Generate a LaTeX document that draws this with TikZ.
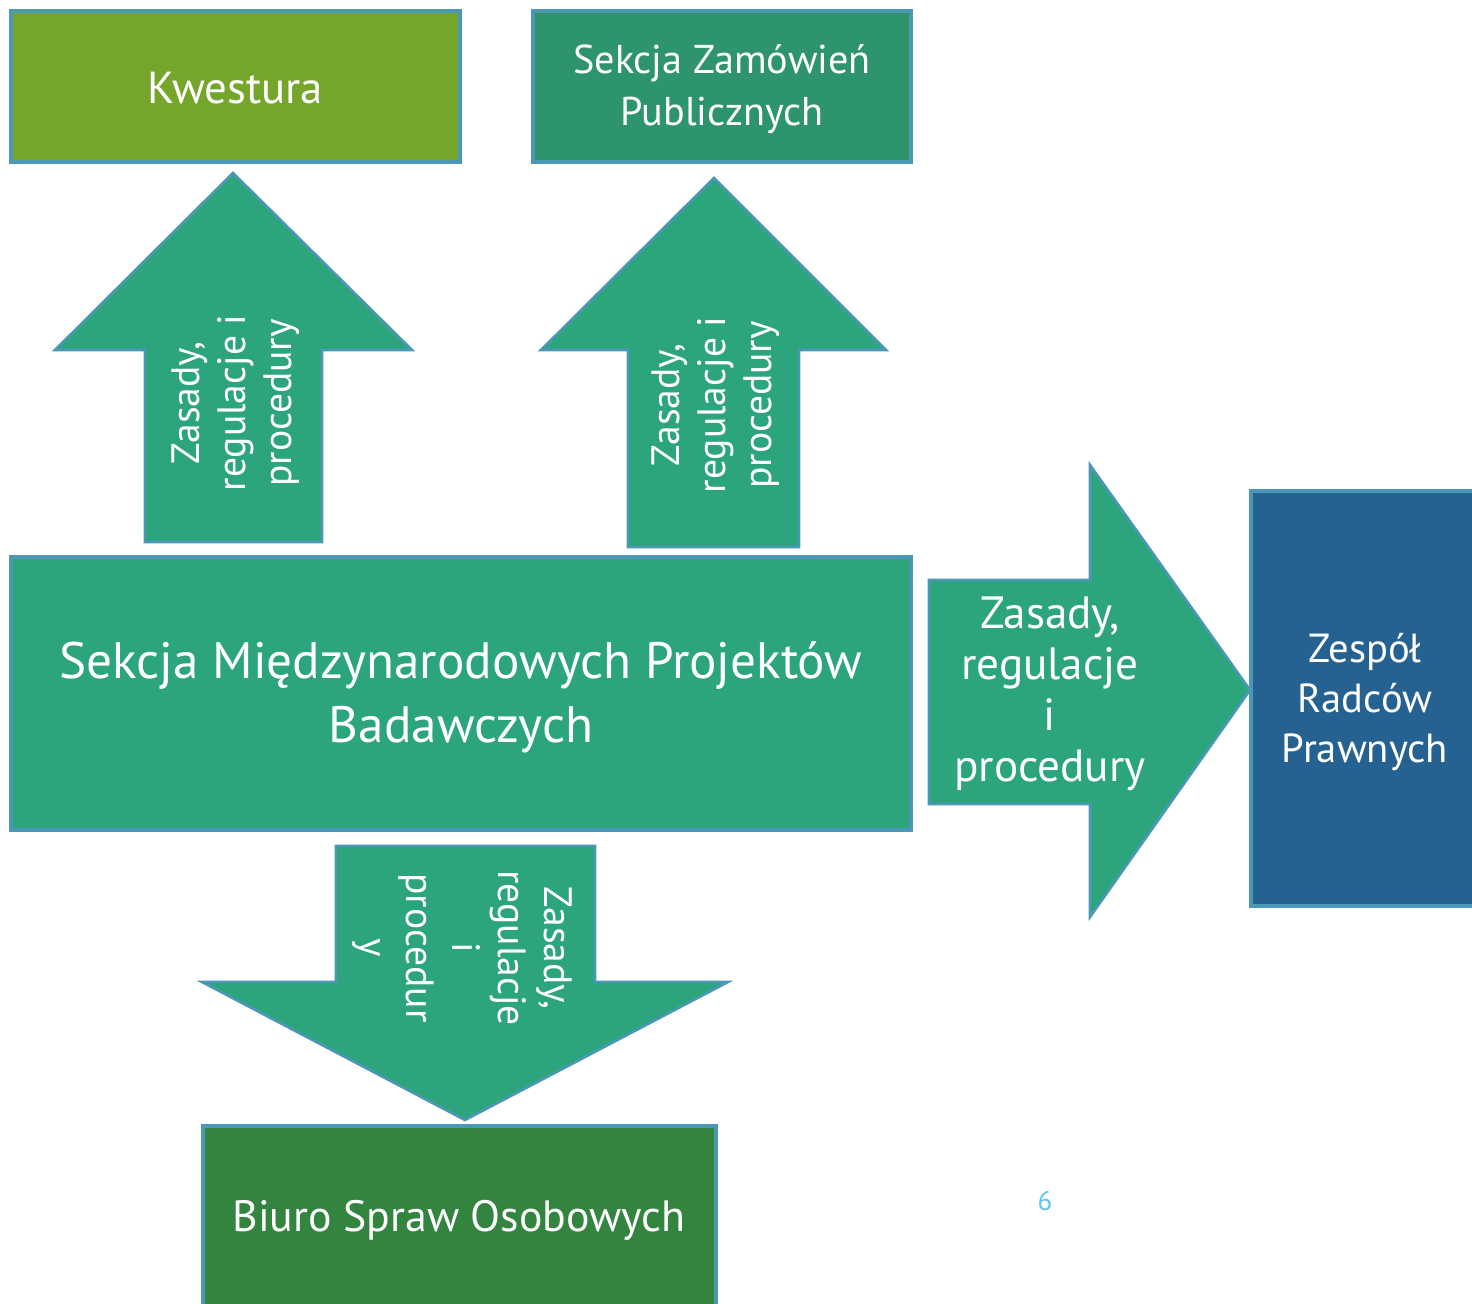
\documentclass[tikz,border=0pt]{standalone}
\usepackage{fontspec}
\setmainfont{PT Sans}
\definecolor{bordc}{RGB}{74,152,182}
\definecolor{kwest}{RGB}{117,165,42}
\definecolor{zamow}{RGB}{46,148,107}
\definecolor{arrg}{RGB}{44,165,125}
\definecolor{zesp}{RGB}{38,98,145}
\definecolor{biuro}{RGB}{51,132,63}
\definecolor{pagenum}{RGB}{95,195,238}
\begin{document}
\begin{tikzpicture}[x=0.5pt,y=-0.5pt,
  box/.style={draw=bordc,line width=1.6pt,text=white,align=center,inner sep=0pt},
  blockarrow/.style={draw=bordc,line width=1.3pt,fill=arrg,line join=miter},
  lbl/.style={text=white,align=center,inner sep=0pt}]
\useasboundingbox (0,0) rectangle (1472,1304);
\clip (0,0) rectangle (1472,1304);
% boxes
\path[box,fill=kwest] (11,11) rectangle (460,162);
\node[lbl,font=\fontsize{22.4}{26}\selectfont] (kw) at (235,88) {Kwestura};
\path[box,fill=zamow] (533,11) rectangle (911,162);
\node[lbl,font=\fontsize{20.1}{26}\selectfont] (sz) at (722,89) {Sekcja Zamówień\\Publicznych};
\path[box,fill=arrg] (11,557) rectangle (911,830);
\node[lbl,font=\fontsize{25.6}{32}\selectfont] (smpb) at (461,697) {Sekcja Międzynarodowych Projektów\\Badawczych};
\path[box,fill=zesp] (1251,491) rectangle (1480,906);
\node[lbl,font=\fontsize{20.3}{25}\selectfont] (zrp) at (1365,702) {Zespół\\Radców\\Prawnych};
\path[box,fill=biuro] (203,1126) rectangle (716,1320);
\node[lbl,font=\fontsize{21.9}{26}\selectfont] (bso) at (459,1220) {Biuro Spraw Osobowych};
% up arrow 1
\draw[blockarrow] (145,542) -- (145,350) -- (55,350) -- (233,173) -- (412,350) -- (322,350) -- (322,542) -- cycle;
\node[lbl,rotate=90,font=\fontsize{19.8}{23}\selectfont] (a1) at (236,403) {Zasady,\\regulacje i\\procedury};
% up arrow 2
\draw[blockarrow] (628,547) -- (628,350) -- (541,350) -- (714,178) -- (886,350) -- (799,350) -- (799,547) -- cycle;
\node[lbl,rotate=90,font=\fontsize{19.8}{23}\selectfont] (a2) at (716,405) {Zasady,\\regulacje i\\procedury};
% right arrow
\draw[blockarrow] (929,580) -- (1090,580) -- (1090,465) -- (1250,690) -- (1090,917) -- (1090,804) -- (929,804) -- cycle;
\node[lbl,font=\fontsize{22.6}{25.5}\selectfont] (a3) at (1050,694) {Zasady,\\regulacje\\i\\procedury};
% down arrow
\draw[blockarrow] (336,846) -- (595,846) -- (595,982) -- (728,982) -- (465,1120) -- (202,982) -- (336,982) -- cycle;
\node[lbl,rotate=-90,font=\fontsize{19.8}{23}\selectfont] (a4) at (462,948) {Zasady,\\regulacje\\i\\procedur\\y};
% page number
\node[text=pagenum,inner sep=0pt,font=\fontsize{13.5}{15}\selectfont] (pn) at (1045,1201) {6};
\end{tikzpicture}
\end{document}
